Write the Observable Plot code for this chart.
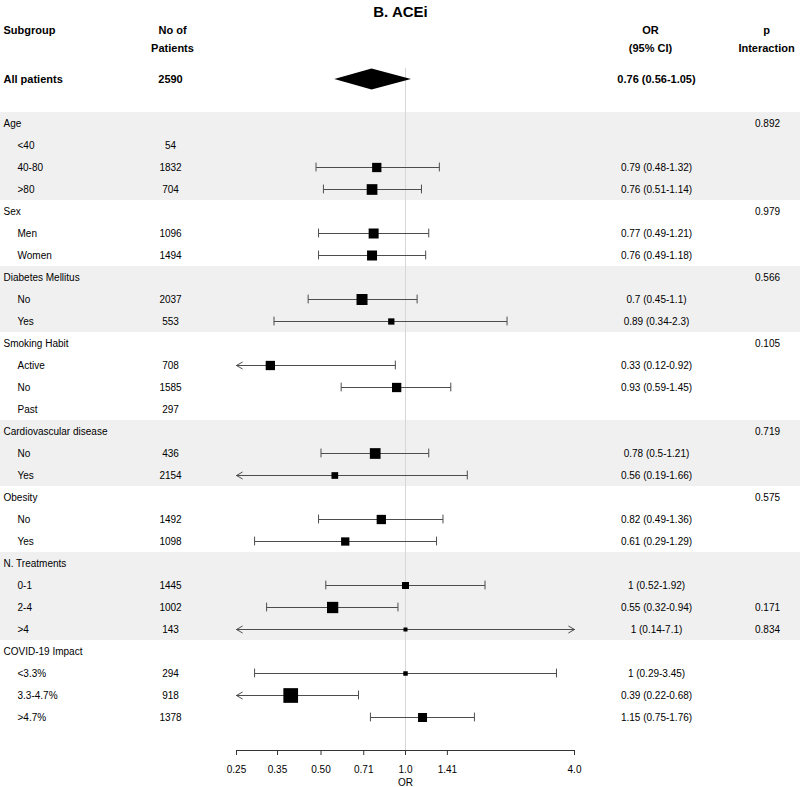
<!DOCTYPE html>
<html>
<head>
<meta charset="utf-8">
<script src="https://cdn.jsdelivr.net/npm/d3@7"></script>
<script src="https://cdn.jsdelivr.net/npm/@observablehq/plot@0.6"></script>
<style>
  body { margin: 0; background: #fff; }
  #chart svg { display: block; }
</style>
</head>
<body>
<div id="chart"></div>
<script>
const title = "B. ACEi";
const headerText = ["Subgroup\n", "No of\nPatients", "OR\n(95% CI)", "p\nInteraction"];
const subgroups = ["All patients","Age","<40","40-80",">80","Sex","Men","Women","Diabetes Mellitus","No","Yes","Smoking Habit","Active","No","Past","Cardiovascular disease","No","Yes","Obesity","No","Yes","N. Treatments","0-1","2-4",">4","COVID-19 Impact","<3.3%","3.3-4.7%",">4.7%"];
const rowKind = ["overall","group","sub","sub","sub","group","sub","sub","group","sub","sub","group","sub","sub","sub","group","sub","sub","group","sub","sub","group","sub","sub","sub","group","sub","sub","sub"];
const patients = [2590,null,54,1832,704,null,1096,1494,null,2037,553,null,708,1585,297,null,436,2154,null,1492,1098,null,1445,1002,143,null,294,918,1378];
const orEst  = [0.76,null,null,0.79,0.76,null,0.77,0.76,null,0.7,0.89,null,0.33,0.93,null,null,0.78,0.56,null,0.82,0.61,null,1,0.55,1,null,1,0.39,1.15];
const ciLow  = [0.56,null,null,0.48,0.51,null,0.49,0.49,null,0.45,0.34,null,0.12,0.59,null,null,0.5,0.19,null,0.49,0.29,null,0.52,0.32,0.14,null,0.29,0.22,0.75];
const ciHigh = [1.05,null,null,1.32,1.14,null,1.21,1.18,null,1.1,2.3,null,0.92,1.45,null,null,1.21,1.66,null,1.36,1.29,null,1.92,0.94,7.1,null,3.45,0.68,1.76];
const pInteraction = [null,"0.892",null,null,null,"0.979",null,null,"0.566",null,null,"0.105",null,null,null,"0.719",null,null,"0.575",null,null,null,null,"0.171","0.834",null,null,null,null];
const weight = [null,null,null,9.3,10.7,null,10,10,null,11,6.3,null,9.3,9.3,null,null,10.7,6.7,null,9.3,8.3,null,7,11.3,4,null,4.5,14.7,9];
const tickValues = [0.25,0.35,0.5,0.71,1,1.41,4];
const tickLabels = ["0.25","0.35","0.50","0.71","1.0","1.41","4.0"];
const xDomain = [0.25, 4];

// build table
const rows = subgroups.map((label, i) => ({
  label,
  kind: rowKind[i],
  row: i === 0 ? 0 : i + 1,
  n: patients[i],
  est: orEst[i],
  lo: ciLow[i],
  hi: ciHigh[i],
  p: pInteraction[i],
  w: weight[i],
  orText: orEst[i] != null ? `${orEst[i]} (${ciLow[i]}-${ciHigh[i]})` : null
}));
const nRows = rows[rows.length - 1].row;
const clampX = v => Math.max(xDomain[0], Math.min(xDomain[1], v));

// group bands (alternate groups shaded)
const groups = [];
rows.forEach(r => {
  if (r.kind === "group") groups.push({start: r.row, end: r.row});
  else if (r.kind === "sub" && groups.length) groups[groups.length - 1].end = r.row;
});
const bands = groups.filter((g, i) => i % 2 === 0).map(g => ({y1: g.start - 0.5, y2: g.end + 0.5}));

const est = rows.filter(r => r.est != null && r.kind !== "overall");
const overall = rows.filter(r => r.kind === "overall");
const groupRows = rows.filter(r => r.kind === "group");
const subRows = rows.filter(r => r.kind === "sub");
const segs = est.map(r => ({row: r.row, x1: clampX(r.lo), x2: clampX(r.hi)}));
const caps = [];
const arrows = [];
est.forEach(r => {
  if (r.lo >= xDomain[0]) caps.push({row: r.row, x: r.lo}); else arrows.push({row: r.row, x1: r.est, x2: xDomain[0]});
  if (r.hi <= xDomain[1]) caps.push({row: r.row, x: r.hi}); else arrows.push({row: r.row, x1: r.est, x2: xDomain[1]});
});
const dh = 0.48;
const diamond = overall.flatMap(r => [
  {x: r.lo, y1: r.row, y2: r.row},
  {x: r.est, y1: r.row - dh, y2: r.row + dh},
  {x: r.hi, y1: r.row, y2: r.row}
]);

const lineColor = "#4d4d4d";
const bold = {fontWeight: "bold", fontSize: 11};
const plain = {fontWeight: "normal", fontSize: 10};
const hdr = {frameAnchor: "top-left", dy: -31.5, textAnchor: "middle", lineAnchor: "middle", fontWeight: "bold", fontSize: 11, lineHeight: 1.64};

const chart = Plot.plot({
  width: 800,
  height: 787,
  marginLeft: 0,
  marginRight: 0,
  marginTop: 68,
  marginBottom: 37,
  style: {fontFamily: "'Liberation Sans', Arial, Helvetica, sans-serif", fontSize: "10px", background: "#fff", color: "#000"},
  x: {type: "log", domain: xDomain, range: [236, 574], axis: null},
  y: {domain: [-0.5, nRows + 1.5], reverse: true, axis: null},
  r: {type: "linear", domain: [0, 10], range: [0, 10 / Math.sqrt(Math.PI)]},
  marks: [
    Plot.rect(bands, {y1: "y1", y2: "y2", fill: "#f0f0f0"}),
    Plot.ruleX([1], {stroke: "#d6d6d6", strokeWidth: 1}),
    Plot.link(segs, {x1: "x1", x2: "x2", y1: "row", y2: "row", stroke: lineColor, strokeWidth: 1}),
    Plot.ruleX(caps, {x: "x", y1: d => d.row - 0.2, y2: d => d.row + 0.2, stroke: lineColor, strokeWidth: 1}),
    Plot.arrow(arrows, {x1: "x1", x2: "x2", y1: "row", y2: "row", stroke: lineColor, strokeWidth: 1, headLength: 10, headAngle: 60}),
    Plot.dot(est, {x: "est", y: "row", r: "w", symbol: "square", fill: "#000", stroke: null}),
    Plot.areaY(diamond, {x: "x", y1: "y1", y2: "y2", fill: "#000", curve: "linear"}),
    // x axis
    Plot.ruleY([nRows + 1.5], {x1: tickValues[0], x2: tickValues[tickValues.length - 1], stroke: "#333"}),
    Plot.axisX({ticks: tickValues, tickFormat: (d) => tickLabels[tickValues.indexOf(d)], tickSize: 5, tickPadding: 10, stroke: "#333", fontSize: 10, label: null}),
    Plot.text(["OR"], {x: () => Math.sqrt(xDomain[0] * xDomain[1]), frameAnchor: "bottom", lineAnchor: "middle", dy: 32, text: d => d, fontSize: 10}),
    // title & headers
    Plot.text([title], {frameAnchor: "top", lineAnchor: "middle", dy: -56, fontSize: 15, fontWeight: "bold"}),
    Plot.text([headerText[0]], {...hdr, dx: 3, textAnchor: "start"}),
    Plot.text([headerText[1]], {...hdr, dx: 172}),
    Plot.text([headerText[2]], {...hdr, dx: 650}),
    Plot.text([headerText[3]], {...hdr, dx: 766}),
    // label column
    Plot.text(overall, {y: "row", text: "label", frameAnchor: "left", dx: 3, textAnchor: "start", ...bold}),
    Plot.text(groupRows, {y: "row", text: "label", frameAnchor: "left", dx: 3, textAnchor: "start", ...plain}),
    Plot.text(subRows, {y: "row", text: "label", frameAnchor: "left", dx: 17, textAnchor: "start", ...plain}),
    // patients column
    Plot.text(overall, {y: "row", text: d => String(d.n), frameAnchor: "left", dx: 170, textAnchor: "middle", ...bold}),
    Plot.text(subRows.filter(d => d.n != null), {y: "row", text: d => String(d.n), frameAnchor: "left", dx: 170, textAnchor: "middle", ...plain}),
    // OR column
    Plot.text(overall, {y: "row", text: "orText", frameAnchor: "left", dx: 656, textAnchor: "middle", ...bold}),
    Plot.text(est, {y: "row", text: "orText", frameAnchor: "left", dx: 656, textAnchor: "middle", ...plain}),
    // p interaction column
    Plot.text(rows.filter(d => d.p != null), {y: "row", text: "p", frameAnchor: "left", dx: 767, textAnchor: "middle", ...plain})
  ]
});
document.getElementById("chart").appendChild(chart);
</script>
</body>
</html>
